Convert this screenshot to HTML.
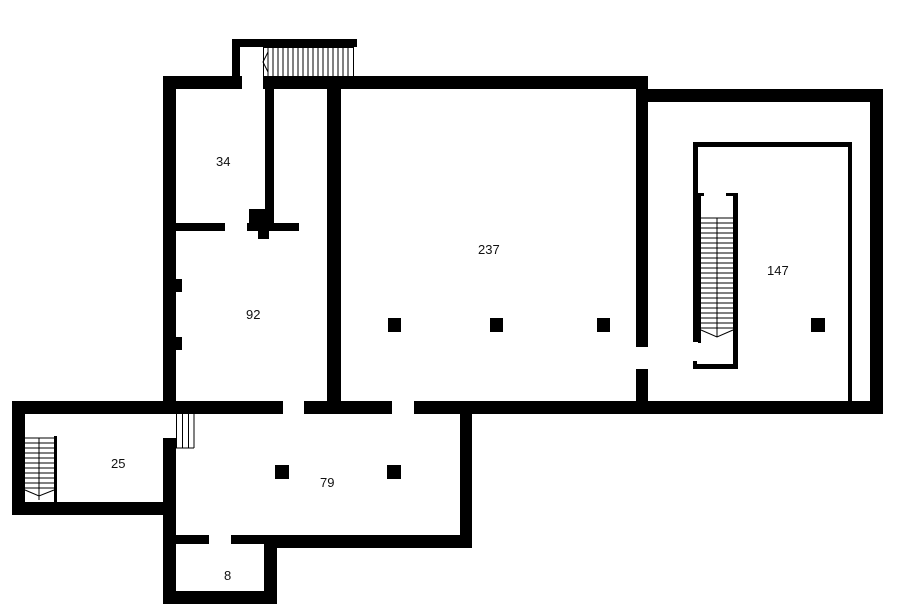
<!DOCTYPE html>
<html><head><meta charset="utf-8"><style>html,body{margin:0;padding:0;background:#fff}svg{display:block}text{font-family:"Liberation Sans",sans-serif;font-size:13px;fill:#111}</style></head>
<body>
<svg width="900" height="604" viewBox="0 0 900 604" xmlns="http://www.w3.org/2000/svg">
<g fill="#000">
<!-- top stair box -->
<rect x="232" y="39" width="125" height="8"/>
<rect x="232" y="39" width="8" height="40"/>
<!-- main top wall -->
<rect x="163" y="76" width="79" height="13"/>
<rect x="263" y="76" width="385" height="13"/>
<!-- left wall -->
<rect x="163" y="76" width="13" height="338"/>
<rect x="163" y="438" width="13" height="166"/>
<rect x="176" y="279" width="6" height="13"/>
<rect x="176" y="337" width="6" height="13"/>
<!-- thin wall room34 -->
<rect x="265" y="89" width="9" height="136"/>
<rect x="176" y="223" width="49" height="8"/>
<rect x="247" y="223" width="52" height="8"/>
<rect x="249" y="209" width="18" height="14"/>
<rect x="258" y="231" width="11" height="8"/>
<!-- wall 92/237 -->
<rect x="327" y="89" width="14" height="312"/>
<!-- wall 237/147 -->
<rect x="636" y="76" width="12" height="271"/>
<rect x="636" y="369" width="12" height="45"/>
<!-- right block -->
<rect x="636" y="89" width="247" height="13"/>
<rect x="870" y="89" width="13" height="325"/>
<!-- long horizontal -->
<rect x="12" y="401" width="271" height="13"/>
<rect x="304" y="401" width="88" height="13"/>
<rect x="414" y="401" width="469" height="13"/>
<!-- room 25 -->
<rect x="12" y="401" width="13" height="114"/>
<rect x="12" y="502" width="164" height="13"/>
<rect x="54" y="436" width="3" height="66"/>
<!-- room 79 -->
<rect x="460" y="414" width="12" height="134"/>
<rect x="264" y="535" width="208" height="13"/>
<rect x="176" y="535" width="33" height="9"/>
<rect x="231" y="535" width="40" height="9"/>
<!-- room 8 -->
<rect x="264" y="535" width="13" height="69"/>
<rect x="163" y="591" width="114" height="13"/>
<!-- columns -->
<rect x="388" y="318" width="13" height="14"/>
<rect x="490" y="318" width="13" height="14"/>
<rect x="597" y="318" width="13" height="14"/>
<rect x="811" y="318" width="14" height="14"/>
<rect x="275" y="465" width="14" height="14"/>
<rect x="387" y="465" width="14" height="14"/>
<!-- inner rect 147 -->
<rect x="693" y="142" width="159" height="5"/>
<rect x="848" y="142" width="4" height="259"/>
<rect x="693" y="142" width="5" height="200"/>
<rect x="693" y="193" width="11" height="3"/>
<rect x="726" y="193" width="12" height="3"/>
<rect x="733" y="193" width="5" height="176"/>
<rect x="693" y="364" width="45" height="5"/>
<rect x="693" y="361" width="4" height="8"/>
<rect x="698" y="193" width="3" height="150"/>
</g>
<!-- top stairs -->
<g stroke="#000" stroke-width="1" fill="none">
<rect x="263.5" y="47.5" width="90" height="29"/>
<path d="M268 47v29M273 47v29M278 47v29M283 47v29M288 47v29M293 47v29M298 47v29M303 47v29M308 47v29M313 47v29M318 47v29M323 47v29M328 47v29M333 47v29M338 47v29M343 47v29M348 47v29"/>
<path d="M268 52l-5 10l5 10"/>
</g>
<!-- stairs 147 -->
<g stroke="#000" stroke-width="1" fill="none">
<path d="M717 218v119"/>
<path d="M701 218h32M701 223h32M701 228h32M701 233h32M701 238h32M701 243h32M701 248h32M701 253h32M701 258h32M701 263h32M701 268h32M701 273h32M701 278h32M701 283h32M701 288h32M701 293h32M701 298h32M701 303h32M701 308h32M701 313h32M701 318h32M701 323h32M701 328h32"/>
<path d="M701 330l16 7l16 -7"/>
</g>
<!-- stairs 25 -->
<g stroke="#000" stroke-width="1" fill="none">
<path d="M39 438v62"/>
<path d="M25 438h29M25 443h29M25 448h29M25 453h29M25 458h29M25 463h29M25 468h29M25 473h29M25 478h29M25 483h29M25 488h29"/>
<path d="M25 490l14 6l15 -6"/>
</g>
<!-- small stair -->
<g stroke="#000" stroke-width="1" fill="none">
<path d="M176.5 414v34M182.5 414v34M188.5 414v34M194 414v34M176 448h18"/>
</g>
<text x="216" y="166">34</text>
<text x="478" y="254">237</text>
<text x="767" y="275">147</text>
<text x="246" y="319">92</text>
<text x="111" y="468">25</text>
<text x="320" y="487">79</text>
<text x="224" y="580">8</text>
</svg>
</body></html>
